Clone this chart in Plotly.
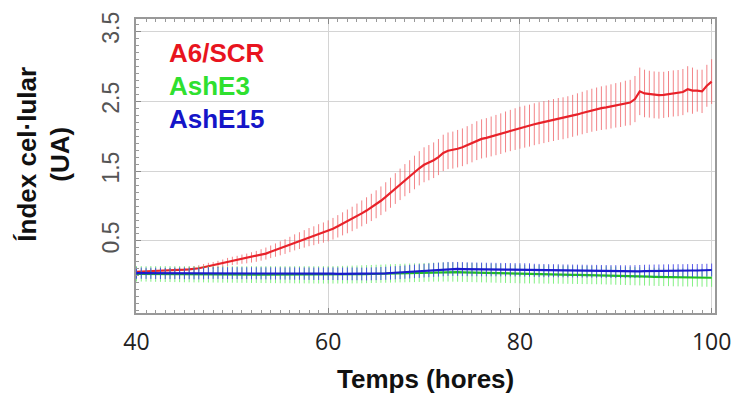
import plotly.graph_objects as go

hours = [40 + 0.5 * i for i in range(121)]

a6_scr = [
    0.060, 0.062, 0.063, 0.065, 0.068, 0.070, 0.073, 0.076, 0.080, 0.084,
    0.089, 0.094, 0.100, 0.110, 0.125, 0.140, 0.150, 0.165, 0.180, 0.200,
    0.215, 0.225, 0.240, 0.250, 0.265, 0.280, 0.300, 0.320, 0.345, 0.370,
    0.395, 0.420, 0.450, 0.480, 0.505, 0.530, 0.555, 0.575, 0.600, 0.620,
    0.645, 0.675, 0.710, 0.745, 0.780, 0.815, 0.855, 0.895, 0.935, 0.980,
    1.025, 1.075, 1.130, 1.190, 1.250, 1.310, 1.370, 1.420, 1.480, 1.540,
    1.590, 1.620, 1.655, 1.700, 1.760, 1.790, 1.800, 1.820, 1.840, 1.870,
    1.900, 1.935, 1.960, 1.975, 1.995, 2.015, 2.035, 2.060, 2.080, 2.100,
    2.120, 2.135, 2.150, 2.170, 2.185, 2.200, 2.215, 2.230, 2.245, 2.255,
    2.270, 2.290, 2.310, 2.330, 2.350, 2.370, 2.385, 2.400, 2.410, 2.425,
    2.440, 2.450, 2.470, 2.480, 2.530, 2.640, 2.610, 2.600, 2.590, 2.585,
    2.590, 2.600, 2.610, 2.615, 2.630, 2.670, 2.650, 2.650, 2.640, 2.720,
    2.780,
]
a6_scr_err = [
    0.030, 0.030, 0.030, 0.031, 0.032, 0.033, 0.034, 0.035, 0.036, 0.037,
    0.038, 0.040, 0.042, 0.044, 0.046, 0.048, 0.050, 0.052, 0.055, 0.058,
    0.060, 0.063, 0.066, 0.070, 0.074, 0.078, 0.082, 0.086, 0.090, 0.095,
    0.100, 0.105, 0.110, 0.115, 0.120, 0.125, 0.130, 0.135, 0.140, 0.145,
    0.150, 0.155, 0.160, 0.165, 0.170, 0.175, 0.180, 0.185, 0.190, 0.195,
    0.200, 0.205, 0.210, 0.215, 0.220, 0.225, 0.230, 0.235, 0.240, 0.245,
    0.250, 0.252, 0.255, 0.258, 0.260, 0.262, 0.265, 0.268, 0.270, 0.272,
    0.275, 0.278, 0.280, 0.282, 0.285, 0.288, 0.290, 0.292, 0.295, 0.298,
    0.300, 0.300, 0.300, 0.300, 0.300, 0.300, 0.300, 0.300, 0.300, 0.300,
    0.300, 0.300, 0.302, 0.304, 0.306, 0.308, 0.310, 0.312, 0.314, 0.316,
    0.318, 0.320, 0.322, 0.325, 0.330, 0.340, 0.340, 0.335, 0.335, 0.335,
    0.330, 0.330, 0.330, 0.330, 0.330, 0.330, 0.330, 0.300, 0.310, 0.300,
    0.320,
]

ash_e3 = [
    0.030, 0.030, 0.029, 0.029, 0.028, 0.028, 0.027, 0.027, 0.026, 0.026,
    0.025, 0.025, 0.024, 0.024, 0.024, 0.023, 0.023, 0.022, 0.022, 0.022,
    0.021, 0.021, 0.020, 0.020, 0.020, 0.020, 0.019, 0.019, 0.019, 0.018,
    0.018, 0.018, 0.018, 0.017, 0.017, 0.017, 0.017, 0.016, 0.016, 0.016,
    0.016, 0.016, 0.017, 0.018, 0.019, 0.020, 0.022, 0.024, 0.026, 0.028,
    0.030, 0.032, 0.034, 0.036, 0.038, 0.040, 0.042, 0.044, 0.046, 0.048,
    0.050, 0.052, 0.054, 0.055, 0.056, 0.056, 0.055, 0.054, 0.052, 0.050,
    0.048, 0.046, 0.044, 0.042, 0.040, 0.038, 0.036, 0.034, 0.032, 0.030,
    0.028, 0.026, 0.025, 0.024, 0.023, 0.022, 0.021, 0.020, 0.019, 0.018,
    0.017, 0.016, 0.015, 0.014, 0.013, 0.012, 0.011, 0.010, 0.008, 0.006,
    0.004, 0.002, 0.000, -0.002, -0.004, -0.006, -0.008, -0.010, -0.012, -0.014,
    -0.015, -0.016, -0.018, -0.019, -0.020, -0.021, -0.022, -0.023, -0.024, -0.025,
    -0.026,
]
ash_e3_err = [
    0.110, 0.110, 0.110, 0.112, 0.112, 0.112, 0.114, 0.114, 0.114, 0.115,
    0.115, 0.115, 0.116, 0.116, 0.116, 0.117, 0.117, 0.117, 0.118, 0.118,
    0.118, 0.119, 0.119, 0.119, 0.120, 0.120, 0.120, 0.121, 0.121, 0.121,
    0.122, 0.122, 0.122, 0.123, 0.123, 0.123, 0.124, 0.124, 0.124, 0.125,
    0.125, 0.125, 0.126, 0.126, 0.127, 0.127, 0.128, 0.128, 0.129, 0.129,
    0.130, 0.130, 0.131, 0.131, 0.132, 0.132, 0.133, 0.133, 0.134, 0.134,
    0.135, 0.135, 0.136, 0.136, 0.137, 0.137, 0.137, 0.137, 0.137, 0.137,
    0.136, 0.136, 0.136, 0.135, 0.135, 0.135, 0.134, 0.134, 0.134, 0.133,
    0.133, 0.133, 0.132, 0.132, 0.132, 0.131, 0.131, 0.131, 0.130, 0.130,
    0.130, 0.130, 0.130, 0.130, 0.130, 0.130, 0.130, 0.130, 0.130, 0.130,
    0.130, 0.130, 0.130, 0.130, 0.130, 0.130, 0.130, 0.130, 0.130, 0.130,
    0.130, 0.130, 0.130, 0.130, 0.130, 0.130, 0.130, 0.130, 0.130, 0.130,
    0.130,
]

ash_e15 = [
    0.040, 0.040, 0.038, 0.038, 0.037, 0.037, 0.036, 0.036, 0.037, 0.037,
    0.036, 0.036, 0.035, 0.035, 0.036, 0.040, 0.042, 0.042, 0.041, 0.040,
    0.040, 0.040, 0.039, 0.039, 0.038, 0.038, 0.037, 0.037, 0.036, 0.036,
    0.036, 0.035, 0.035, 0.034, 0.034, 0.033, 0.033, 0.032, 0.032, 0.032,
    0.032, 0.032, 0.031, 0.031, 0.031, 0.030, 0.030, 0.028, 0.028, 0.030,
    0.032, 0.035, 0.038, 0.042, 0.046, 0.050, 0.055, 0.060, 0.065, 0.070,
    0.075, 0.080, 0.085, 0.090, 0.095, 0.100, 0.100, 0.100, 0.098, 0.096,
    0.095, 0.094, 0.093, 0.092, 0.092, 0.091, 0.090, 0.090, 0.089, 0.088,
    0.087, 0.086, 0.085, 0.080, 0.078, 0.077, 0.076, 0.075, 0.074, 0.073,
    0.072, 0.071, 0.070, 0.069, 0.068, 0.067, 0.066, 0.065, 0.064, 0.063,
    0.062, 0.061, 0.060, 0.060, 0.062, 0.065, 0.068, 0.070, 0.071, 0.072,
    0.073, 0.074, 0.075, 0.076, 0.076, 0.077, 0.078, 0.078, 0.080, 0.082,
    0.085,
]
ash_e15_err = [
    0.080, 0.080, 0.080, 0.080, 0.081, 0.081, 0.081, 0.081, 0.082, 0.082,
    0.082, 0.082, 0.083, 0.083, 0.083, 0.083, 0.084, 0.084, 0.084, 0.084,
    0.085, 0.085, 0.085, 0.085, 0.086, 0.086, 0.086, 0.086, 0.087, 0.087,
    0.087, 0.087, 0.088, 0.088, 0.088, 0.088, 0.089, 0.089, 0.089, 0.089,
    0.090, 0.090, 0.090, 0.090, 0.091, 0.091, 0.091, 0.091, 0.092, 0.092,
    0.092, 0.093, 0.093, 0.094, 0.094, 0.095, 0.095, 0.096, 0.096, 0.097,
    0.097, 0.098, 0.098, 0.099, 0.099, 0.100, 0.100, 0.100, 0.100, 0.099,
    0.099, 0.098, 0.098, 0.097, 0.097, 0.096, 0.096, 0.095, 0.095, 0.095,
    0.095, 0.095, 0.095, 0.094, 0.094, 0.094, 0.093, 0.093, 0.093, 0.092,
    0.092, 0.092, 0.092, 0.092, 0.092, 0.092, 0.092, 0.092, 0.092, 0.092,
    0.092, 0.092, 0.092, 0.092, 0.092, 0.092, 0.092, 0.092, 0.092, 0.092,
    0.092, 0.092, 0.092, 0.092, 0.092, 0.092, 0.092, 0.092, 0.092, 0.092,
    0.092,
]

series = [
    ("A6/SCR", a6_scr, a6_scr_err, "#e8222a", "rgba(238,90,95,0.75)"),
    ("AshE3", ash_e3, ash_e3_err, "#1fc21f", "rgba(90,235,90,0.75)"),
    ("AshE15", ash_e15, ash_e15_err, "#1a1acc", "rgba(60,60,230,0.85)"),
]
label_colors = {"A6/SCR": "#e8141e", "AshE3": "#2fe02f", "AshE15": "#1515c8"}

fig = go.Figure()
for name, vals, errs, lc, ec in series:
    fig.add_trace(go.Scatter(
        x=hours, y=vals, name=name, mode="lines",
        line=dict(color=lc, width=2.2),
        error_y=dict(type="data", array=errs, visible=True,
                     color=ec, thickness=1, width=0),
        showlegend=False,
    ))

label_font = "Liberation Sans, Arial, sans-serif"
for i, (name, *_rest) in enumerate(series):
    fig.add_annotation(
        text=f"<b>{name}</b>", xref="paper", yref="paper",
        x=(168 - 136) / 589, y=1 - (51 + 33.5 * i - 17) / 296,
        xanchor="left", yanchor="middle", showarrow=False,
        font=dict(family=label_font, size=26, color=label_colors[name]),
    )

fig.add_annotation(
    text="<b>Índex cel·lular<br>(UA)</b>", xref="paper", yref="paper",
    x=(42 - 136) / 589, y=1 - (153 - 17) / 296, textangle=-90,
    xanchor="center", yanchor="middle", showarrow=False,
    font=dict(family=label_font, size=26, color="#111"),
)
fig.add_annotation(
    text="<b>Temps (hores)</b>", xref="paper", yref="paper",
    x=0.5, y=1 - (379 - 17) / 296,
    xanchor="center", yanchor="middle", showarrow=False,
    font=dict(family=label_font, size=26, color="#111"),
)

fig.update_layout(
    width=743, height=393,
    margin=dict(l=136, r=18, t=17, b=80),
    paper_bgcolor="white", plot_bgcolor="white",
    xaxis=dict(
        range=[39.95, 100.35], tickvals=[40, 60, 80, 100],
        showgrid=True, gridcolor="#d4d4d4", gridwidth=1,
        ticks="inside", ticklen=5, tickcolor="#888",
        minor=dict(dtick=1, tick0=40, ticks="inside", ticklen=3, tickcolor="#999", showgrid=False),
        showline=True, linecolor="#999", linewidth=1.5, mirror="ticks",
        tickfont=dict(family="Open Sans, sans-serif", size=23, color="#222"),
        ticklabelstandoff=8, zeroline=False,
    ),
    yaxis=dict(
        range=[-0.53, 3.675], tickvals=[0.5, 1.5, 2.5, 3.5],
        ticktext=["0.5", "1.5", "2.5", "3.5"],
        showgrid=True, gridcolor="#d4d4d4", gridwidth=1,
        ticks="inside", ticklen=5, tickcolor="#888",
        minor=dict(dtick=0.1, tick0=0, ticks="inside", ticklen=3, tickcolor="#999", showgrid=False),
        showline=True, linecolor="#999", linewidth=1.5, mirror=True,
        tickangle=-90,
        tickfont=dict(family="Liberation Sans Narrow, Liberation Sans, sans-serif", size=23, color="#555"),
        ticklabelstandoff=6, zeroline=False,
    ),
)

fig.write_html("out.html")
